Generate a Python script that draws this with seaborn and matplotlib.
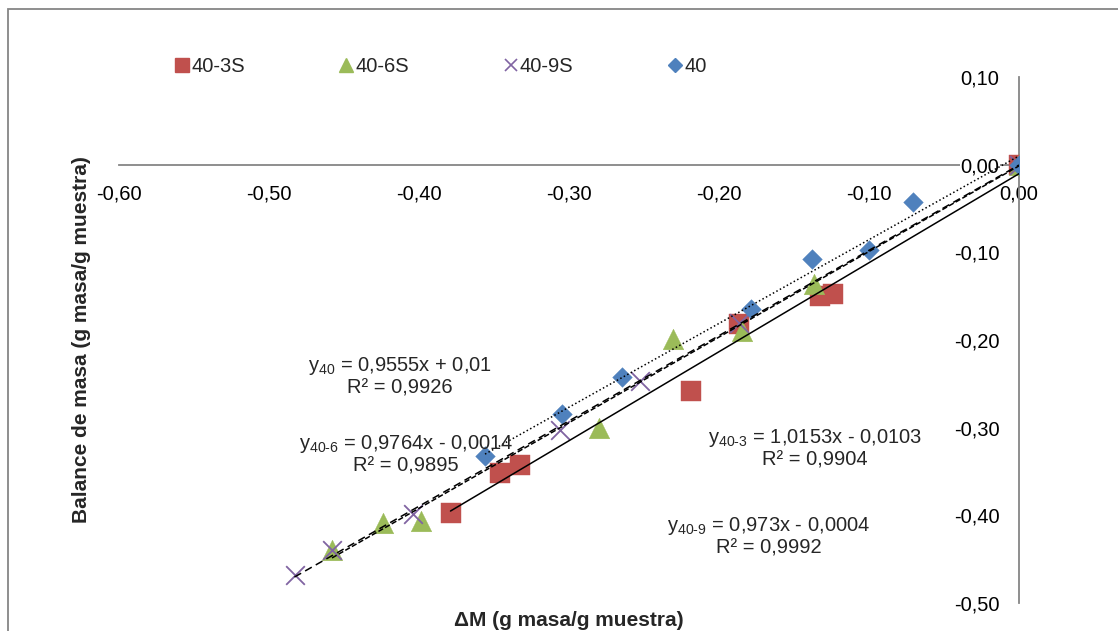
import numpy as np
import pandas as pd
import matplotlib
matplotlib.use("Agg")
import matplotlib.pyplot as plt
import matplotlib.ticker as mticker
from matplotlib.lines import Line2D
from matplotlib.patches import Rectangle
import seaborn as sns

# ---- data -------------------------------------------------------------
x_40_3S = [0.0, -0.124, -0.133, -0.187, -0.219, -0.333, -0.346, -0.379]
y_40_3S = [0.0, -0.147, -0.150, -0.182, -0.258, -0.343, -0.352, -0.397]

x_40_6S = [0.0, -0.137, -0.185, -0.231, -0.280, -0.399, -0.424, -0.458]
y_40_6S = [0.0, -0.136, -0.190, -0.199, -0.300, -0.406, -0.409, -0.440]

x_40_9S = [0.0, -0.187, -0.253, -0.306, -0.404, -0.458, -0.483]
y_40_9S = [0.0, -0.181, -0.247, -0.303, -0.398, -0.440, -0.468]

x_40 = [0.0, -0.071, -0.100, -0.138, -0.179, -0.265, -0.305, -0.356]
y_40 = [0.0, -0.043, -0.097, -0.108, -0.165, -0.242, -0.284, -0.332]

series_names = ["40-3S", "40-6S", "40-9S", "40"]

# linear fits (slope, intercept, R^2)
slopes = [1.0153, 0.9764, 0.973, 0.9555]
intercepts = [-0.0103, -0.0014, -0.0004, 0.01]
r2_values = [0.9904, 0.9895, 0.9992, 0.9926]
fit_labels = ["40-3", "40-6", "40-9", "40"]

x_ticks = [-0.60, -0.50, -0.40, -0.30, -0.20, -0.10, 0.00]
y_ticks = [-0.50, -0.40, -0.30, -0.20, -0.10, 0.00, 0.10]

# ---- style ------------------------------------------------------------
sns.set_theme(style="white")
plt.rcParams["font.family"] = ["Liberation Sans", "DejaVu Sans"]
plt.rcParams["mathtext.fontset"] = "custom"
plt.rcParams["mathtext.rm"] = "Liberation Sans"
plt.rcParams["mathtext.it"] = "Liberation Sans"
plt.rcParams["mathtext.bf"] = "Liberation Sans:bold"

colors = {"40-3S": "#C0504D", "40-6S": "#9BBB59", "40-9S": "#8064A2", "40": "#4F81BD"}
markers = {"40-3S": "s", "40-6S": "^", "40-9S": "x", "40": "D"}
msizes = {"40-3S": 210, "40-6S": 220, "40-9S": 180, "40": 100}
fit_styles = {"40-3S": "-", "40-6S": (0, (3.5, 1.5)), "40-9S": (0, (5, 3)), "40": (0, (1, 1.6))}

axis_gray = "#868686"
FS = 14.5
W, H = 1118, 631
fig = plt.figure(figsize=(W / 100, H / 100), dpi=100)
ax = fig.add_axes([119 / W, 1 - 603 / H, 900 / W, 526 / H])

frames = []
for name, xs, ys in [("40-3S", x_40_3S, y_40_3S), ("40-6S", x_40_6S, y_40_6S),
                     ("40-9S", x_40_9S, y_40_9S), ("40", x_40, y_40)]:
    frames.append(pd.DataFrame({"x": xs, "y": ys, "serie": name}))
df = pd.concat(frames, ignore_index=True)

# markers
for name in series_names:
    sub = df[df["serie"] == name]
    if markers[name] == "x":
        sns.scatterplot(data=sub, x="x", y="y", ax=ax, marker="x", s=msizes[name],
                        color=colors[name], linewidth=1.3, zorder=3, legend=False)
    else:
        sns.scatterplot(data=sub, x="x", y="y", ax=ax, marker=markers[name], s=msizes[name],
                        color=colors[name], edgecolor=colors[name], linewidth=0.3,
                        zorder=3, legend=False)

# trend lines from the fitted coefficients
for name, m, b in zip(series_names, slopes, intercepts):
    sub = df[df["serie"] == name]
    xs = np.array([sub["x"].min(), sub["x"].max()])
    line = pd.DataFrame({"x": xs, "y": m * xs + b})
    sns.lineplot(data=line, x="x", y="y", ax=ax, color="black", linewidth=1.1,
                 linestyle=fit_styles[name], zorder=4, legend=False)

ax.set_xlim(-0.60, 0.0)
ax.set_ylim(-0.50, 0.10)
ax.set_xlabel("")
ax.set_ylabel("")

# axes crossing at the origin
for side in ["top", "right"]:
    ax.spines[side].set_visible(False)
ax.spines["left"].set_position(("data", 0.0))
ax.spines["bottom"].set_position(("data", 0.0))
for side in ["left", "bottom"]:
    ax.spines[side].set_color(axis_gray)
    ax.spines[side].set_linewidth(1.3)
    ax.spines[side].set_zorder(2)

fmt = mticker.FuncFormatter(lambda v, p: ("%.2f" % (0.0 if abs(v) < 1e-9 else v)).replace(".", ","))
ax.set_xticks(x_ticks)
ax.set_yticks(y_ticks)
ax.xaxis.set_major_formatter(fmt)
ax.yaxis.set_major_formatter(fmt)
ax.tick_params(axis="x", length=0, pad=14, labelsize=FS, colors="black")
ax.tick_params(axis="y", length=0, pad=14, labelsize=FS, colors="black")
ax.yaxis.set_zorder(2.6)
for lab in ax.get_yticklabels():
    lab.set_bbox(dict(facecolor="white", edgecolor="none", pad=0.5))

# equations
def eq_text(lbl, m, b, r2):
    sign = "+" if b >= 0 else "-"
    mtxt = ("%g" % m).replace(".", ",")
    btxt = ("%g" % abs(b)).replace(".", ",")
    return ("y$_{\\text{%s}}$ = %sx %s %s\nR² = %s"
            % (lbl, mtxt, sign, btxt, ("%.4f" % r2).replace(".", ",")))

eq_pos = {"40-3": (-0.136, -0.324), "40-6": (-0.4087, -0.330),
          "40-9": (-0.167, -0.424), "40": (-0.4127, -0.241)}
for lbl, m, b, r2 in zip(fit_labels, slopes, intercepts, r2_values):
    px, py = eq_pos[lbl]
    ax.text(px, py, eq_text(lbl, m, b, r2), ha="center", va="center",
            multialignment="center", fontsize=FS, linespacing=1.1, zorder=5)

# axis titles
fig.text(82 / W, 1 - 340 / H, "Balance de masa (g masa/g muestra)", rotation=90,
         ha="center", va="center", fontsize=15, fontweight="bold")
fig.text(569 / W, 1 - 620 / H, "ΔM (g masa/g muestra)", ha="center", va="center",
         fontsize=15, fontweight="bold")

# legend
handles = []
for name in series_names:
    mk = markers[name]
    if mk == "x":
        h = Line2D([], [], linestyle="none", marker="x", markersize=9, markeredgewidth=1.2,
                   color=colors[name])
    else:
        h = Line2D([], [], linestyle="none", marker=mk,
                   markersize={"s": 9.5, "^": 10, "D": 7}[mk],
                   color=colors[name], markeredgecolor=colors[name])
    handles.append(h)
fig.legend(handles, series_names, loc="center left", bbox_to_anchor=(176 / W, 1 - 67 / H),
           ncol=4, frameon=False, fontsize=FS, handlelength=0.6, handletextpad=0.15,
           columnspacing=4.75, borderaxespad=0, borderpad=0)

# chart frame
fig.add_artist(Rectangle((8 / W, -0.2), 1.5, 1.2 - 9 / H, transform=fig.transFigure,
                         fill=False, edgecolor=axis_gray, linewidth=1.3, clip_on=False))

fig.savefig("out.png", dpi=100)
